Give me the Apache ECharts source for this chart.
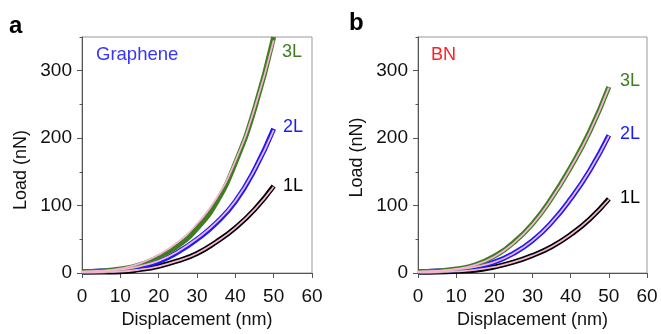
<!DOCTYPE html>
<html>
<head>
<meta charset="utf-8">
<script src="https://cdn.jsdelivr.net/npm/echarts@6/dist/echarts.min.js"></script>
<style>html,body{margin:0;padding:0;background:#fff}#c{width:661px;height:334px}</style>
</head>
<body>
<div id="c"></div>
<script>
// Displacement (nm)
var xs = [0, 5, 10, 15, 20, 25, 30, 35, 40, 45, 50];
// Panel a: Graphene load (nN), measured
var gr1L = [1, 1.5, 2, 5, 10, 18, 29, 46, 67, 94, 129];
var gr2L = [2, 3, 5, 10, 17, 31, 50, 74, 106, 153, 214];
var gr3L = [2, 3, 6, 12, 24, 40, 66, 104, 163, 243, 350];
// Panel a: fits (pink)
var gr1Lfit = [1, 1.5, 2.2, 5, 10, 18, 29, 46, 67, 94, 128];
var gr2Lfit = [2, 3, 5, 10, 18, 32, 51, 75, 107, 153, 212];
var gr3Lfit = [2, 3, 6.5, 14, 27, 46, 73, 110, 166, 244, 345];
// Panel b: BN load (nN), measured
var bn1L = [1, 1.5, 2.5, 4, 9, 16, 26, 39, 57, 80, 110];
var bn2L = [2, 3, 5, 9, 16, 29, 48, 75, 110, 152, 204];
var bn3L = [2, 3, 6, 12, 25, 45, 73, 111, 157, 210, 276];
// Panel b: fits (pink)
var bn1Lfit = [1, 1.5, 2.5, 4.5, 9, 16, 26, 39, 57, 80, 109];
var bn2Lfit = [2, 3, 5, 9, 16, 29, 48, 75, 110, 152, 203];
var bn3Lfit = [2, 3, 6, 12, 24, 44, 72, 110, 156, 209, 275];
var xTicks = [0, 10, 20, 30, 40, 50, 60];
var yTicks = [0, 100, 200, 300];

function pairs(v){ return xs.map(function(x,i){ return [x, v[i]]; }); }

var FONT = 'Liberation Sans, Arial, Helvetica, sans-serif';
var colData = {'1L':'#000000','2L':'#1a1aff','3L':'#3f7d20'};
var pink = '#f5b3d6';

function dataSeries(v, key, gi){
  return {type:'line', xAxisIndex:gi, yAxisIndex:gi*2, data:pairs(v), smooth:true,
    showSymbol:false, lineStyle:{color:colData[key], width:5}, z:2, silent:true};
}
function fitSeries(v, gi){
  return {type:'line', xAxisIndex:gi, yAxisIndex:gi*2, data:pairs(v), smooth:true,
    showSymbol:false, lineStyle:{color:pink, width:1.8}, z:3, silent:true};
}
function xAx(gi){
  return {type:'value', gridIndex:gi, min:0, max:60, interval:10,
    name:'Displacement (nm)', nameLocation:'middle', nameGap:38,
    nameTextStyle:{fontFamily:FONT, fontSize:18, color:'#111'},
    axisLine:{lineStyle:{color:'#555', width:1}},
    axisTick:{length:5, lineStyle:{color:'#555'}},
    axisLabel:{fontFamily:FONT, fontSize:19, color:'#111', margin:14,
      formatter:function(v){ return xTicks.indexOf(v)>=0 ? String(v) : ''; }},
    splitLine:{show:false}};
}
function yAxMajor(gi, pad){
  return {type:'value', gridIndex:gi, position:'left', min:0, max:350, interval:100,
    name:'Load (nN)', nameLocation:'middle', nameGap:52,
    nameTextStyle:{fontFamily:FONT, fontSize:18, color:'#111', padding:pad},
    axisLine:{show:true, lineStyle:{color:'#555', width:1}},
    axisTick:{length:5, lineStyle:{color:'#555'}},
    axisLabel:{fontFamily:FONT, fontSize:19, color:'#111', margin:10, showMaxLabel:false,
      formatter:function(v){ return yTicks.indexOf(v)>=0 ? String(v) : ''; }},
    splitLine:{show:false}};
}
function yAxMinor(gi){
  return {type:'value', gridIndex:gi, position:'left', offset:0, min:0, max:350, interval:50,
    axisLine:{show:false}, axisTick:{length:2.5, lineStyle:{color:'#555'}},
    axisLabel:{show:false}, splitLine:{show:false}};
}

var option = {
  animation:false,
  grid:[
    {left:82, top:37, width:230, height:241, show:true, borderColor:'#999', borderWidth:1},
    {left:418, top:37, width:229, height:241, show:true, borderColor:'#999', borderWidth:1}
  ],
  xAxis:[xAx(0), xAx(1)],
  yAxis:[yAxMajor(0,[0,30,0,0]), yAxMinor(0), yAxMajor(1,[0,5,0,0]), yAxMinor(1)],
  series:[
    dataSeries(gr1L,'1L',0), dataSeries(gr2L,'2L',0), dataSeries(gr3L,'3L',0),
    fitSeries(gr1Lfit,0), fitSeries(gr2Lfit,0), fitSeries(gr3Lfit,0),
    dataSeries(bn1L,'1L',1), dataSeries(bn2L,'2L',1), dataSeries(bn3L,'3L',1),
    fitSeries(bn1Lfit,1), fitSeries(bn2Lfit,1), fitSeries(bn3Lfit,1)
  ],
  graphic:[
    {type:'text', x:9, y:26, style:{text:'a', font:'bold 24px '+FONT, fill:'#000', verticalAlign:'middle'}},
    {type:'text', x:349, y:23, style:{text:'b', font:'bold 24px '+FONT, fill:'#000', verticalAlign:'middle'}},
    {type:'text', x:96, y:55, style:{text:'Graphene', font:'18.5px '+FONT, fill:'#3535ff', verticalAlign:'middle'}},
    {type:'text', x:431, y:55, style:{text:'BN', font:'18px '+FONT, fill:'#ff1f1f', verticalAlign:'middle'}},
    {type:'text', x:282, y:52, style:{text:'3L', font:'18px '+FONT, fill:'#3f7d20', verticalAlign:'middle'}},
    {type:'text', x:283, y:127, style:{text:'2L', font:'18px '+FONT, fill:'#1a1aff', verticalAlign:'middle'}},
    {type:'text', x:283, y:186, style:{text:'1L', font:'18px '+FONT, fill:'#000', verticalAlign:'middle'}},
    {type:'text', x:620, y:81, style:{text:'3L', font:'18px '+FONT, fill:'#3f7d20', verticalAlign:'middle'}},
    {type:'text', x:620, y:134, style:{text:'2L', font:'18px '+FONT, fill:'#1a1aff', verticalAlign:'middle'}},
    {type:'text', x:620, y:198, style:{text:'1L', font:'18px '+FONT, fill:'#000', verticalAlign:'middle'}}
  ]
};
var chart = echarts.init(document.getElementById('c'), null, {renderer:'canvas'});
chart.setOption(option);
</script>
</body>
</html>
